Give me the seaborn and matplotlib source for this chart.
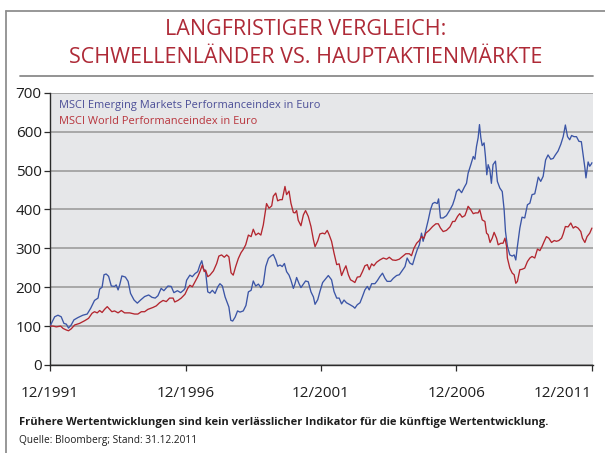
import matplotlib
matplotlib.use("Agg")
import matplotlib.pyplot as plt
import matplotlib.lines as mlines
import seaborn as sns
import pandas as pd

# ---------------- data ----------------
em_years = [1991.92, 1992.09, 1992.21, 1992.33, 1992.43, 1992.52, 1992.60, 1992.70, 1992.80, 1992.95,
            1993.13, 1993.29, 1993.42, 1993.56, 1993.69, 1993.75, 1993.84, 1993.91, 1993.99, 1994.08,
            1994.18, 1994.30, 1994.36, 1994.43, 1994.49, 1994.57, 1994.70, 1994.80, 1994.89, 1995.02,
            1995.14, 1995.26, 1995.41, 1995.56, 1995.68, 1995.80, 1995.90, 1996.02, 1996.12, 1996.27,
            1996.39, 1996.49, 1996.62, 1996.74, 1996.86, 1996.90, 1996.96, 1997.08, 1997.17, 1997.27,
            1997.37, 1997.45, 1997.52, 1997.58, 1997.66, 1997.74, 1997.82, 1997.91, 1998.01, 1998.11,
            1998.19, 1998.28, 1998.38, 1998.47, 1998.52, 1998.59, 1998.66, 1998.75, 1998.84, 1998.93,
            1999.05, 1999.15, 1999.24, 1999.34, 1999.42, 1999.51, 1999.61, 1999.70, 1999.79, 1999.88,
            1999.98, 2000.07, 2000.16, 2000.25, 2000.32, 2000.41, 2000.49, 2000.57, 2000.65, 2000.74,
            2000.81, 2000.90, 2000.96, 2001.02, 2001.11, 2001.18, 2001.27, 2001.35, 2001.45, 2001.55,
            2001.64, 2001.70, 2001.80, 2001.88, 2001.98, 2002.06, 2002.19, 2002.31, 2002.40, 2002.50,
            2002.59, 2002.68, 2002.77, 2002.86, 2002.99, 2003.11, 2003.17, 2003.26, 2003.36, 2003.45,
            2003.54, 2003.63, 2003.70, 2003.79, 2003.91, 2004.00, 2004.09, 2004.19, 2004.28, 2004.36,
            2004.49, 2004.59, 2004.71, 2004.81, 2004.89, 2005.02, 2005.10, 2005.20, 2005.30, 2005.39,
            2005.47, 2005.55, 2005.63, 2005.69, 2005.75, 2005.82, 2005.88, 2005.96, 2006.04, 2006.12,
            2006.21, 2006.26, 2006.33, 2006.43, 2006.55, 2006.68, 2006.78, 2006.86, 2006.92, 2007.01,
            2007.11, 2007.21, 2007.29, 2007.35, 2007.45, 2007.54, 2007.60, 2007.66, 2007.72, 2007.77,
            2007.82, 2007.87, 2007.94, 2007.99, 2008.04, 2008.09, 2008.15, 2008.21, 2008.27, 2008.36,
            2008.43, 2008.52, 2008.61, 2008.68, 2008.73, 2008.80, 2008.89, 2008.98, 2009.05, 2009.11,
            2009.17, 2009.26, 2009.34, 2009.44, 2009.54, 2009.63, 2009.71, 2009.81, 2009.87, 2009.94,
            2010.03, 2010.12, 2010.21, 2010.30, 2010.40, 2010.49, 2010.57, 2010.67, 2010.77, 2010.86,
            2010.94, 2011.02, 2011.10, 2011.17, 2011.26, 2011.35, 2011.44, 2011.53, 2011.60, 2011.66,
            2011.70, 2011.78, 2011.84, 2011.90, 2011.92]
em_values = [100, 124, 128, 124, 107, 105, 95, 103, 116, 122,
             128, 131, 146, 166, 172, 195, 200, 232, 234, 228,
             203, 202, 206, 193, 206, 229, 226, 215, 184, 167,
             159, 167, 176, 180, 174, 172, 178, 197, 191, 203,
             202, 186, 191, 186, 193, 197, 218, 231, 227, 235,
             240, 257, 268, 248, 240, 188, 185, 192, 184, 201,
             209, 203, 175, 158, 149, 115, 113, 123, 139, 136,
             139, 153, 188, 192, 216, 203, 208, 199, 208, 253,
             274, 280, 284, 270, 254, 257, 253, 261, 240, 231,
             218, 197, 209, 225, 209, 199, 208, 216, 214, 188,
             175, 156, 168, 189, 212, 219, 230, 219, 189, 172,
             172, 157, 167, 160, 155, 150, 146, 155, 160, 176,
             193, 202, 193, 209, 209, 217, 227, 236, 223, 215,
             215, 223, 230, 232, 240, 253, 275, 262, 258, 279,
             296, 309, 339, 318, 335, 356, 373, 399, 415, 418,
             415, 427, 378, 378, 384, 399, 412, 429, 446, 452,
             443, 457, 467, 493, 515, 536, 529, 562, 584, 618,
             584, 564, 571, 536, 489, 515, 503, 467, 515, 524,
             472, 455, 446, 399, 343, 305, 283, 280, 283, 270,
             305, 352, 380, 378, 412, 416, 438, 440, 459, 483,
             472, 485, 527, 540, 529, 531, 540, 550, 567, 587,
             617, 587, 579, 590, 587, 587, 575, 574, 537, 507,
             481, 522, 511, 517, 520]

world_years = [1991.92, 1992.03, 1992.15, 1992.31, 1992.40, 1992.52, 1992.60, 1992.70, 1992.83, 1993.01,
               1993.20, 1993.34, 1993.47, 1993.56, 1993.66, 1993.75, 1993.84, 1993.93, 1994.03, 1994.12,
               1994.20, 1994.30, 1994.43, 1994.55, 1994.67, 1994.86, 1995.04, 1995.16, 1995.29, 1995.41,
               1995.53, 1995.72, 1995.84, 1995.96, 1996.09, 1996.21, 1996.33, 1996.46, 1996.52, 1996.64,
               1996.76, 1996.90, 1997.00, 1997.08, 1997.17, 1997.27, 1997.37, 1997.45, 1997.54, 1997.61,
               1997.66, 1997.74, 1997.82, 1997.95, 1998.07, 1998.15, 1998.25, 1998.35, 1998.44, 1998.52,
               1998.60, 1998.68, 1998.77, 1998.87, 1998.97, 1999.05, 1999.14, 1999.24, 1999.34, 1999.42,
               1999.51, 1999.61, 1999.70, 1999.79, 1999.91, 2000.00, 2000.10, 2000.16, 2000.25, 2000.32,
               2000.41, 2000.49, 2000.59, 2000.65, 2000.74, 2000.81, 2000.90, 2000.96, 2001.02, 2001.08,
               2001.18, 2001.27, 2001.35, 2001.45, 2001.55, 2001.64, 2001.70, 2001.80, 2001.88, 2001.98,
               2002.06, 2002.15, 2002.22, 2002.31, 2002.40, 2002.50, 2002.59, 2002.68, 2002.77, 2002.84,
               2002.93, 2003.01, 2003.11, 2003.17, 2003.26, 2003.36, 2003.45, 2003.54, 2003.63, 2003.70,
               2003.79, 2003.87, 2003.97, 2004.09, 2004.22, 2004.34, 2004.44, 2004.56, 2004.68, 2004.81,
               2004.93, 2005.05, 2005.18, 2005.26, 2005.35, 2005.45, 2005.55, 2005.63, 2005.72, 2005.79,
               2005.91, 2006.04, 2006.16, 2006.25, 2006.33, 2006.43, 2006.55, 2006.68, 2006.78, 2006.86,
               2006.96, 2007.04, 2007.13, 2007.23, 2007.29, 2007.35, 2007.45, 2007.54, 2007.62, 2007.72,
               2007.78, 2007.87, 2007.97, 2008.03, 2008.09, 2008.16, 2008.24, 2008.31, 2008.40, 2008.46,
               2008.56, 2008.64, 2008.71, 2008.77, 2008.80, 2008.89, 2008.98, 2009.05, 2009.11, 2009.17,
               2009.26, 2009.34, 2009.44, 2009.54, 2009.63, 2009.71, 2009.81, 2009.91, 2010.00, 2010.08,
               2010.16, 2010.24, 2010.33, 2010.43, 2010.53, 2010.61, 2010.70, 2010.80, 2010.86, 2010.94,
               2011.04, 2011.14, 2011.23, 2011.31, 2011.41, 2011.51, 2011.57, 2011.66, 2011.74, 2011.84,
               2011.92]
world_values = [100, 100, 98, 100, 94, 90, 88, 93, 103, 107,
                114, 120, 133, 137, 134, 140, 135, 143, 150, 143,
                137, 139, 134, 140, 134, 134, 131, 131, 137, 137,
                143, 148, 152, 160, 166, 163, 172, 172, 162, 166,
                172, 182, 197, 205, 201, 214, 227, 240, 257, 240,
                244, 227, 231, 242, 261, 280, 283, 277, 283, 278,
                237, 231, 253, 274, 289, 297, 309, 334, 330, 349,
                334, 339, 334, 360, 415, 403, 409, 434, 442, 422,
                425, 425, 459, 438, 447, 416, 392, 391, 397, 372,
                358, 386, 397, 382, 356, 322, 304, 319, 337, 339,
                337, 346, 335, 318, 288, 258, 260, 230, 245, 255,
                232, 219, 215, 212, 226, 227, 240, 255, 258, 245,
                260, 255, 264, 270, 275, 272, 277, 270, 269, 272,
                279, 286, 286, 281, 300, 313, 320, 330, 326, 339,
                346, 356, 363, 363, 352, 343, 346, 355, 369, 369,
                382, 389, 380, 384, 395, 408, 399, 389, 391, 391,
                399, 373, 369, 339, 335, 315, 326, 341, 326, 309,
                313, 313, 326, 305, 275, 249, 236, 232, 210, 215,
                245, 246, 249, 266, 275, 279, 275, 298, 294, 305,
                318, 330, 326, 315, 320, 318, 320, 326, 337, 356,
                355, 365, 352, 356, 352, 343, 326, 315, 330, 339,
                352]

series_names = ["MSCI Emerging Markets Performanceindex in Euro",
                "MSCI World Performanceindex in Euro"]
tick_years = [1991.92, 1996.92, 2001.92, 2006.92, 2011.92]
tick_labels = ["12/1991", "12/1996", "12/2001", "12/2006", "12/2011"]
y_ticks = [0, 100, 200, 300, 400, 500, 600, 700]

title_text = "LANGFRISTIGER VERGLEICH:\nSCHWELLENLÄNDER VS. HAUPTAKTIENMÄRKTE"
footer_bold = "Frühere Wertentwicklungen sind kein verlässlicher Indikator für die künftige Wertentwicklung."
footer_src = "Quelle: Bloomberg; Stand: 31.12.2011"

# ---------------- styling ----------------
BLUE = "#3b55a6"
RED = "#b3262f"
BLUE_TXT = "#4b4e97"
RED_TXT = "#b8343c"
TITLE_RED = "#ae2a37"
BG = "#e6e7e9"
GRID = "#a3a3a3"

sns.set_theme(style="white")
plt.rcParams["font.family"] = ["Open Sans", "DejaVu Sans"]

df = pd.concat([
    pd.DataFrame({"Jahr": em_years, "Wert": em_values, "Index": series_names[0]}),
    pd.DataFrame({"Jahr": world_years, "Wert": world_values, "Index": series_names[1]}),
], ignore_index=True)

fig = plt.figure(figsize=(6.05, 4.53), dpi=100)
ax = fig.add_axes([50 / 605, 1 - 365 / 453, 543 / 605, 272.3 / 453])
ax.set_facecolor(BG)

sns.lineplot(data=df, x="Jahr", y="Wert", hue="Index",
             palette={series_names[0]: BLUE, series_names[1]: RED},
             estimator=None, linewidth=0.95, ax=ax, zorder=3)

ax.set_xlim(1991.917, 2011.96)
ax.set_ylim(0, 700)
ax.set_yticks(y_ticks)
ax.set_xticks(tick_years)
ax.set_xticklabels(tick_labels)
ax.set_xlabel("")
ax.set_ylabel("")
ax.grid(axis="y", color=GRID, linewidth=1.3, zorder=1)
ax.set_axisbelow(True)

for s in ["top", "right"]:
    ax.spines[s].set_visible(False)
for s in ["left", "bottom"]:
    ax.spines[s].set_color("#2b2b2b")
    ax.spines[s].set_linewidth(1.0)

ax.tick_params(axis="y", which="both", left=True, length=4, width=0.9, color="#2b2b2b",
               pad=2, labelsize=11, labelcolor="#1e1e1e")
ax.tick_params(axis="x", which="both", bottom=True, length=4, width=0.9, color="#2b2b2b",
               pad=11, labelsize=11, labelcolor="#1e1e1e")
xt = ax.get_xticklabels()
xt[-1].set_horizontalalignment("right")
xt[-1].set_x(tick_years[-1])

# legend as coloured text only
handles = [mlines.Line2D([], [], color=BLUE, linewidth=0), mlines.Line2D([], [], color=RED, linewidth=0)]
leg = ax.legend(handles, series_names, loc="upper left", bbox_to_anchor=(0.0, 1.007),
                frameon=False, handlelength=0, handletextpad=0, fontsize=7.9,
                labelspacing=0.45, borderaxespad=0.4)
for t, c in zip(leg.get_texts(), [BLUE_TXT, RED_TXT]):
    t.set_color(c)

# title
fig.text(306 / 605, 1 - 43.5 / 453, title_text, ha="center", va="center",
         fontsize=15.5, color=TITLE_RED, linespacing=1.45, fontfamily=["Open Sans", "DejaVu Sans"])

# frame and separator lines
fig.add_artist(mlines.Line2D([6 / 605, 6 / 605], [0, 1 - 10.7 / 453], transform=fig.transFigure,
                             color="#8f8f8f", linewidth=1.3))
fig.add_artist(mlines.Line2D([6 / 605, 1], [1 - 10.7 / 453, 1 - 10.7 / 453], transform=fig.transFigure,
                             color="#8f8f8f", linewidth=1.3))
fig.add_artist(mlines.Line2D([20 / 605, 593 / 605], [1 - 75.5 / 453, 1 - 75.5 / 453], transform=fig.transFigure,
                             color="#8a8a8a", linewidth=1.3))

# footer
fig.text(19 / 605, 1 - 422 / 453, footer_bold, ha="left", va="center", fontsize=8.0,
         fontweight="bold", color="#1e1e1e", fontfamily=["Open Sans", "DejaVu Sans"])
fig.text(19 / 605, 1 - 440 / 453, footer_src, ha="left", va="center", fontsize=7.3,
         color="#1e1e1e", fontfamily=["Open Sans", "DejaVu Sans"])

fig.savefig("out.png", dpi=100)
